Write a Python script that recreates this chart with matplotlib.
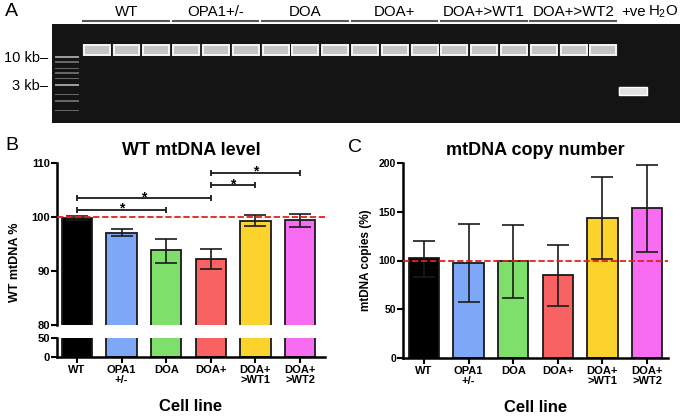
import matplotlib
matplotlib.use("Agg")
import matplotlib.pyplot as plt
import numpy as np

plt.rcParams["font.family"] = ["Liberation Sans", "DejaVu Sans"]
plt.rcParams["mathtext.fontset"] = "custom"
plt.rcParams["mathtext.rm"] = "Liberation Sans"
plt.rcParams["mathtext.default"] = "regular"

# ---- data ----
cell_lines = ["WT", "OPA1\n+/-", "DOA", "DOA+", "DOA+\n>WT1", "DOA+\n>WT2"]
gel_groups = ["WT", "OPA1+/-", "DOA", "DOA+", "DOA+>WT1", "DOA+>WT2"]
lanes_per_group = 3
ladder_kb = [10, 8, 6, 5, 4, 3, 2, 1.5, 1]
sample_band_kb = 13.5
control_band_kb = 2.3

wt_level = [99.85, 97.05, 93.8, 92.2, 99.3, 99.4]
wt_level_lo = [99.5, 96.4, 91.5, 90.3, 98.3, 98.2]
wt_level_hi = [100.1, 97.7, 96.0, 94.1, 100.3, 100.55]
# significance: (from, to, height)
sig_pairs = [(0, 2, 101.35), (0, 3, 103.5), (3, 4, 105.9), (3, 5, 108.2)]

copies = [102.2, 97.1, 99.5, 84.7, 143.4, 153.7]
copies_lo = [83.4, 57.0, 62.0, 53.5, 101.5, 109.0]
copies_hi = [120.0, 137.2, 136.5, 116.0, 185.2, 198.3]

colors = ["#000000", "#7FA7F8", "#7EE06B", "#F96262", "#FCD22C", "#F76CF0"]
edge = "#1a1a1a"
red = "#e3211c"

W, H = 683, 418
fig = plt.figure(figsize=(W / 100, H / 100), dpi=100)


def rect(l, t, r, b):
    return [l / W, 1 - b / H, (r - l) / W, (b - t) / H]


# ---- panel A: gel ----
gel = fig.add_axes(rect(52, 24, 680, 123))
gel.set_facecolor("#141414")
gel.set_yscale("log")
gel.set_xlim(-0.5, 20.57)
gel.set_ylim(0.58, 41.4)
for s in gel.spines.values():
    s.set_visible(False)

for kb in ladder_kb:
    c = "#9a9a9a" if kb in (10, 3) else "#666666"
    gel.bar(0, kb * (10**0.013 - 10**-0.013), bottom=kb * 10**-0.013,
            width=0.8, color=c, linewidth=0)

n_samples = len(gel_groups) * lanes_per_group
lanes = np.arange(1, n_samples + 1)
gel.bar(lanes, sample_band_kb * (10**0.115 - 10**-0.115),
        bottom=sample_band_kb * 10**-0.115, width=0.97, color="#4a4a4a",
        alpha=0.4, linewidth=0)
gel.bar(lanes, sample_band_kb * (10**0.09 - 10**-0.09),
        bottom=sample_band_kb * 10**-0.09, width=0.87, color="#c4c4c4",
        edgecolor="#f6f6f6", linewidth=1.4)
gel.bar(19, control_band_kb * (10**0.085 - 10**-0.085),
        bottom=control_band_kb * 10**-0.085, width=1.02, color="#4a4a4a",
        alpha=0.4, linewidth=0)
gel.bar(19, control_band_kb * (10**0.068 - 10**-0.068),
        bottom=control_band_kb * 10**-0.068, width=0.94, color="#e2e2e2",
        edgecolor="#ffffff", linewidth=1.0)

gel.set_xticks([])
gel.set_yticks([10, 3])
gel.yaxis.set_minor_locator(matplotlib.ticker.NullLocator())
gel.set_yticklabels(["10 kb\u2013", "3 kb\u2013"], fontsize=10.5)
gel.tick_params(axis="y", length=0, pad=3)

tr = gel.get_xaxis_transform()
for g, name in enumerate(gel_groups):
    first = g * lanes_per_group + 1
    last = first + lanes_per_group - 1
    gel.plot([first - 0.45, last + 0.42], [1.033, 1.033], transform=tr,
             color="#555555", lw=1.5, clip_on=False)
    gel.text((first + last) / 2, 1.12, name, transform=tr, ha="center",
             va="center", fontsize=10.8)
gel.text(19, 1.12, "+ve", transform=tr, ha="center", va="center", fontsize=10.8)
gel.text(20, 1.12, "H$_2$O", transform=tr, ha="center", va="center", fontsize=10.8)
fig.text(5 / W, 1 - 12 / H, "A", fontsize=14, va="center")

# ---- panel B: WT mtDNA level (broken axis) ----
x = np.arange(len(cell_lines))
bu = fig.add_axes(rect(57, 163, 325, 325))
bl = fig.add_axes(rect(57, 338, 325, 357))
for ax in (bu, bl):
    ax.bar(x, wt_level, width=0.68, color=colors, edgecolor=edge, linewidth=1.3)
    ax.set_xlim(-0.45, 5.56)
    ax.spines["top"].set_visible(False)
    ax.spines["right"].set_visible(False)
    ax.spines["left"].set_linewidth(1.8)
    ax.tick_params(axis="y", length=4, width=1.5, labelsize=8, pad=1)
bu.spines["bottom"].set_visible(False)
bl.spines["bottom"].set_linewidth(1.8)
bu.set_ylim(80, 110)
bl.set_ylim(0, 50)
bu.set_yticks([80, 90, 100, 110])
bu.set_yticklabels(["80", "90", "100", "110"], fontweight="bold")
bl.set_yticks([0, 50])
bl.set_yticklabels(["0", "50"], fontweight="bold")
bu.set_xticks([])
bl.set_xticks(x)
bl.set_xticklabels(cell_lines, fontsize=8, fontweight="bold", linespacing=1.0)
bl.tick_params(axis="x", length=4, width=1.5, pad=2)

err_b = [np.array(wt_level) - np.array(wt_level_lo),
         np.array(wt_level_hi) - np.array(wt_level)]
bu.errorbar(x, wt_level, yerr=err_b, fmt="none", ecolor=edge, elinewidth=1.2,
            capsize=8, capthick=1.2, zorder=3)
bu.axhline(100, color=red, ls=(0, (3.5, 1.5)), lw=1.3, zorder=4)

for a, b, y in sig_pairs:
    mid = (a + b) / 2
    bu.errorbar(mid, y, xerr=(b - a) / 2, fmt="none", ecolor=edge,
                elinewidth=1.3, capsize=2.5, capthick=1.3, clip_on=False)
    bu.text(mid, y - 0.55, "*", ha="center", va="baseline", fontsize=10,
            fontweight="bold")

bu.set_title("WT mtDNA level", fontsize=13, fontweight="bold", pad=6)
bl.set_xlabel("Cell line", fontsize=12, fontweight="bold", labelpad=10)
fig.text(15 / W, 1 - 262 / H, "WT mtDNA %", rotation=90, ha="center",
         va="center", fontsize=9, fontweight="bold")
fig.text(5 / W, 1 - 145 / H, "B", fontsize=14, va="center")

# ---- panel C: mtDNA copy number ----
cx = fig.add_axes(rect(403, 163, 668, 358))
cx.bar(x, copies, width=0.68, color=colors, edgecolor=edge, linewidth=1.3)
err_c = [np.array(copies) - np.array(copies_lo),
         np.array(copies_hi) - np.array(copies)]
cx.errorbar(x, copies, yerr=err_c, fmt="none", ecolor=edge, elinewidth=1.2,
            capsize=8, capthick=1.2, zorder=3)
cx.axhline(100, color=red, ls=(0, (3.5, 1.5)), lw=1.3, zorder=4)
cx.set_xlim(-0.47, 5.47)
cx.set_ylim(0, 200)
cx.spines["top"].set_visible(False)
cx.spines["right"].set_visible(False)
cx.spines["left"].set_linewidth(1.8)
cx.spines["bottom"].set_linewidth(1.8)
cx.set_yticks([0, 50, 100, 150, 200])
cx.set_yticklabels(["0", "50", "100", "150", "200"], fontweight="bold")
cx.tick_params(axis="y", length=4, width=1.5, labelsize=7.5, pad=1)
cx.set_xticks(x)
cx.set_xticklabels(cell_lines, fontsize=8, fontweight="bold", linespacing=1.0)
cx.tick_params(axis="x", length=4, width=1.5, pad=2)
cx.set_title("mtDNA copy number", fontsize=13, fontweight="bold", pad=6)
cx.set_xlabel("Cell line", fontsize=12, fontweight="bold", labelpad=10)
cx.set_ylabel("mtDNA copies (%)", fontsize=8.5, fontweight="bold", labelpad=5)
fig.text(348 / W, 1 - 147 / H, "C", fontsize=14, va="center")

fig.savefig("out.png", dpi=100)
